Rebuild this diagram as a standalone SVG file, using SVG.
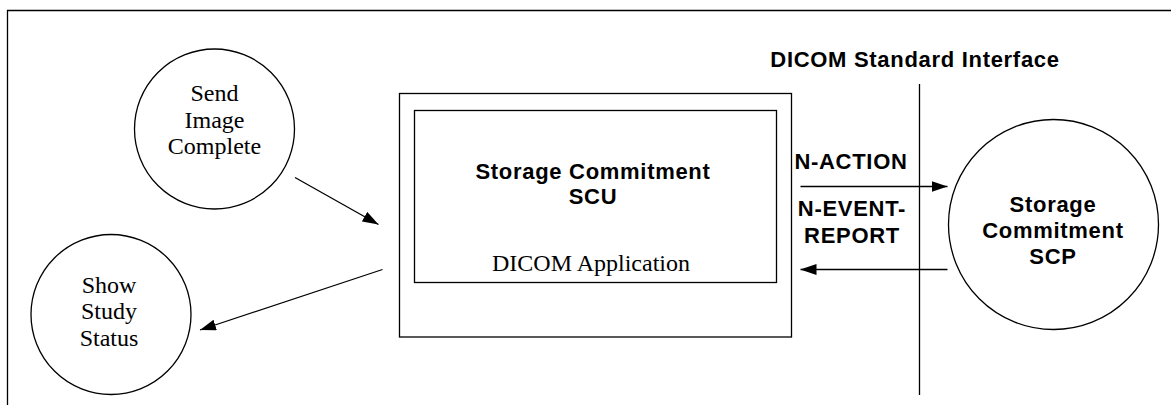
<svg xmlns="http://www.w3.org/2000/svg" width="1171" height="405" viewBox="0 0 1171 405">
<style>
.ln{fill:none;stroke:#000;stroke-width:1.3}
.serif{font-family:"Liberation Serif","Times New Roman",serif;font-size:24px;fill:#000;text-anchor:middle}
.sans{font-family:"Liberation Sans",Arial,sans-serif;font-weight:bold;font-size:22px;letter-spacing:0.7px;fill:#000;text-anchor:middle}
</style>
<defs>
<marker id="ah" viewBox="0 0 16 11" refX="16" refY="5.5" markerWidth="16" markerHeight="11" markerUnits="userSpaceOnUse" orient="auto">
<path d="M0,0 L16,5.5 L0,11 Z" fill="#000"/>
</marker>
</defs>
<rect width="1171" height="405" fill="#fff"/>
<g id="frame">
<path class="ln" d="M7.5,405 V10.5 H1171"/>
</g>
<g id="interface">
<line class="ln" x1="919.5" y1="84" x2="919.5" y2="395"/>
<text class="sans" x="915" y="67">DICOM Standard Interface</text>
</g>
<g id="send-image-complete">
<circle class="ln" cx="214.5" cy="129" r="80"/>
<text class="serif" x="214.5" y="101">Send</text>
<text class="serif" x="214.5" y="127.5">Image</text>
<text class="serif" x="214.5" y="154">Complete</text>
</g>
<g id="show-study-status">
<circle class="ln" cx="111" cy="314.5" r="80"/>
<text class="serif" x="109" y="292.5">Show</text>
<text class="serif" x="109" y="319">Study</text>
<text class="serif" x="109" y="345.5">Status</text>
</g>
<g id="dicom-application">
<rect class="ln" x="399.5" y="93.5" width="392" height="243.5"/>
<rect class="ln" x="414.5" y="110.5" width="362" height="172"/>
<text class="sans" x="593" y="179">Storage Commitment</text>
<text class="sans" x="593" y="204">SCU</text>
<text class="serif" x="591" y="270.5">DICOM Application</text>
</g>
<g id="storage-commitment-scp">
<circle class="ln" cx="1053.5" cy="224.5" r="105"/>
<text class="sans" x="1053" y="211.5">Storage</text>
<text class="sans" x="1053" y="238">Commitment</text>
<text class="sans" x="1053" y="263.5">SCP</text>
</g>
<g id="connectors">
<line class="ln" x1="295" y1="177.5" x2="378.5" y2="224.5" marker-end="url(#ah)"/>
<line class="ln" x1="382.5" y1="269.5" x2="200" y2="330" marker-end="url(#ah)"/>
<line class="ln" x1="800.5" y1="186.5" x2="947.5" y2="186.5" marker-end="url(#ah)"/>
<line class="ln" x1="947.5" y1="269.5" x2="800.5" y2="269.5" marker-end="url(#ah)"/>
<text class="sans" x="851" y="168.5">N-ACTION</text>
<text class="sans" x="852" y="216">N-EVENT-</text>
<text class="sans" x="852" y="242.5">REPORT</text>
</g>
</svg>
